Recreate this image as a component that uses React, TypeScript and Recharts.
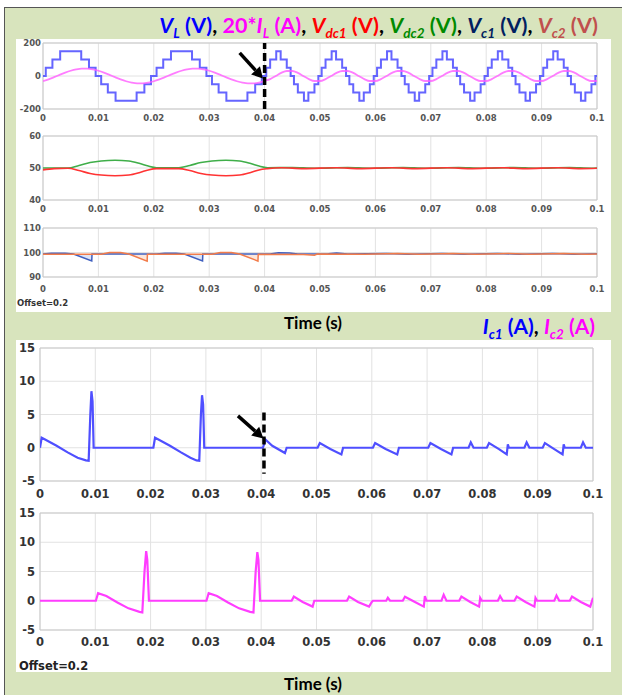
import React from 'react';
import {
  ComposedChart,
  Line,
  Area,
  XAxis,
  YAxis,
  CartesianGrid,
  ReferenceLine,
  ReferenceArea,
} from 'recharts';

const W = 622;

const xTicks = [0, 0.01, 0.02, 0.03, 0.04, 0.05, 0.06, 0.07, 0.08, 0.09, 0.1];
const vTicks = [-200, 0, 200];
const dcTicks = [40, 50, 60];
const capTicks = [90, 100, 110];
const iTicks = [-5, 0, 5, 10, 15];

// V_L staircase levels: [time s, volts] (step after)
const vlSteps: [number, number][] = [
  [0, 0], [0.0005, 50], [0.0017, 100], [0.0031, 150], [0.0069, 100], [0.0083, 50], [0.0095, 0],
  [0.0105, -50], [0.0117, -100], [0.0131, -150], [0.0169, -100], [0.0183, -50], [0.0195, 0],
  [0.0205, 50], [0.0217, 100], [0.0231, 150], [0.0269, 100], [0.0283, 50], [0.0295, 0],
  [0.0305, -50], [0.0317, -100], [0.0331, -150], [0.0369, -100], [0.0383, -50], [0.0395, 0],
  [0.0403, 50], [0.041, 100], [0.0421, 150], [0.0429, 100], [0.044, 50], [0.0447, 0],
  [0.0453, -50], [0.046, -100], [0.0471, -150], [0.0479, -100], [0.049, -50], [0.0497, 0],
  [0.0503, 50], [0.051, 100], [0.0521, 150], [0.0529, 100], [0.054, 50], [0.0547, 0],
  [0.0553, -50], [0.056, -100], [0.0571, -150], [0.0579, -100], [0.059, -50], [0.0597, 0],
  [0.0603, 50], [0.061, 100], [0.0621, 150], [0.0629, 100], [0.064, 50], [0.0647, 0],
  [0.0653, -50], [0.066, -100], [0.0671, -150], [0.0679, -100], [0.069, -50], [0.0697, 0],
  [0.0703, 50], [0.071, 100], [0.0721, 150], [0.0729, 100], [0.074, 50], [0.0747, 0],
  [0.0753, -50], [0.076, -100], [0.0771, -150], [0.0779, -100], [0.079, -50], [0.0797, 0],
  [0.0803, 50], [0.081, 100], [0.0821, 150], [0.0829, 100], [0.084, 50], [0.0847, 0],
  [0.0853, -50], [0.086, -100], [0.0871, -150], [0.0879, -100], [0.089, -50], [0.0897, 0],
  [0.0903, 50], [0.091, 100], [0.0921, 150], [0.0929, 100], [0.094, 50], [0.0947, 0],
  [0.0953, -50], [0.096, -100], [0.0971, -150], [0.0979, -100], [0.099, -50], [0.0997, 0],
  [0.1, 0],
];

// 20*I_L, one value per millisecond from 0 to 0.1 s
const ilValues = [
  -31.8, -20.4, -7, 7, 20.4, 31.8, 40.1, 44.4, 44.4, 40.1, 31.8, 20.4, 7, -7, -20.4, -31.8, -40.1, -44.4, -44.4, -40.1,
  -31.8, -20.4, -7, 7, 20.4, 31.8, 40.1, 44.4, 44.4, 40.1, 31.8, 20.4, 7, -7, -20.4, -31.8, -40.1, -44.4, -44.4, -40.1,
  -30, -18.8, 0, 18.8, 30.4, 30.4, 18.8, 0, -18.8, -30.4,
  -30.4, -18.8, 0, 18.8, 30.4, 30.4, 18.8, 0, -18.8, -30.4,
  -30.4, -18.8, 0, 18.8, 30.4, 30.4, 18.8, 0, -18.8, -30.4,
  -30.4, -18.8, 0, 18.8, 30.4, 30.4, 18.8, 0, -18.8, -30.4,
  -30.4, -18.8, 0, 18.8, 30.4, 30.4, 18.8, 0, -18.8, -30.4,
  -30.4, -18.8, 0, 18.8, 30.4, 30.4, 18.8, 0, -18.8, -30.4,
  -30.4,
];

const vdc1Rows: [number, number][] = [
  [0, 49.4], [0.002, 49.8], [0.0045, 49.9], [0.0065, 49.2], [0.0085, 48.3], [0.0105, 47.8], [0.013, 47.6],
  [0.0155, 47.8], [0.0175, 48.6], [0.019, 49.4], [0.0205, 49.8], [0.0245, 49.8], [0.0265, 49.2], [0.0285, 48.3],
  [0.0305, 47.8], [0.033, 47.6], [0.0355, 47.8], [0.0375, 48.6], [0.039, 49.4], [0.0405, 49.8],
  [0.043, 50.1], [0.047, 49.8], [0.053, 50.1], [0.057, 49.8], [0.063, 50.1], [0.067, 49.8], [0.073, 50.1],
  [0.077, 49.8], [0.083, 50.1], [0.087, 49.8], [0.093, 50.1], [0.097, 49.8], [0.1, 49.9],
];

const vdc2Rows: [number, number][] = [
  [0, 50], [0.0045, 50], [0.0065, 50.8], [0.0085, 51.7], [0.0105, 52.2], [0.013, 52.4], [0.0155, 52.2],
  [0.0175, 51.4], [0.019, 50.6], [0.0205, 50.1], [0.0245, 50.1], [0.0265, 50.8], [0.0285, 51.7], [0.0305, 52.2],
  [0.033, 52.4], [0.0355, 52.2], [0.0375, 51.4], [0.039, 50.6], [0.0405, 50.1],
  [0.045, 50.15], [0.049, 49.9], [0.055, 50.15], [0.059, 49.9], [0.065, 50.15], [0.069, 49.9], [0.075, 50.15],
  [0.079, 49.9], [0.085, 50.15], [0.089, 49.9], [0.095, 50.15], [0.099, 49.9], [0.1, 50],
];

const vc1Rows: [number, number][] = [
  [0, 99.4], [0.0015, 99.7], [0.004, 99.7], [0.0055, 99.4], [0.0088, 96.6], [0.00885, 99.4],
  [0.0205, 99.4], [0.022, 99.7], [0.024, 99.7], [0.0255, 99.4], [0.0288, 96.6], [0.02885, 99.4],
  [0.041, 99.4], [0.0425, 99.9], [0.0445, 99.8], [0.046, 99.4], [0.0515, 99.5], [0.053, 99.8], [0.055, 99.4],
  [0.062, 99.6], [0.066, 99.3], [0.072, 99.6], [0.076, 99.3], [0.082, 99.6], [0.086, 99.3], [0.092, 99.6],
  [0.096, 99.3], [0.1, 99.5],
];

const vc2Rows: [number, number][] = [
  [0, 99.3], [0.0105, 99.3], [0.012, 100], [0.014, 100], [0.0155, 99.4], [0.0188, 96.5], [0.01885, 99.3],
  [0.0305, 99.3], [0.032, 100], [0.034, 100], [0.0355, 99.4], [0.0388, 96.5], [0.03885, 99.3],
  [0.047, 99.2], [0.049, 98.9], [0.0495, 99.4], [0.058, 99.3], [0.064, 99.6], [0.068, 99.3], [0.074, 99.6],
  [0.078, 99.3], [0.084, 99.6], [0.088, 99.3], [0.094, 99.6], [0.098, 99.3], [0.1, 99.4],
];

const ic1Rows: [number, number][] = [
  [0, 0], [0.0003, 1.5], [0.001, 1.2], [0.003, 0.3], [0.005, -0.7], [0.0068, -1.5], [0.0083, -1.9], [0.0088, -1.95],
  [0.0091, 5], [0.0093, 8.5], [0.0095, 7], [0.0097, 0],
  [0.0205, 0], [0.0208, 1.5], [0.0215, 1.2], [0.0235, 0.3], [0.0255, -0.7], [0.0272, -1.5], [0.0283, -1.9], [0.0288, -1.95],
  [0.0291, 5], [0.0293, 7.9], [0.0295, 6.5], [0.0297, 0],
  [0.0403, 0], [0.0408, 1.2], [0.042, 0.3], [0.0443, -0.8], [0.0446, 0],
  [0.0502, 0], [0.0506, 0.7], [0.0525, -0.2], [0.0545, -1], [0.0548, 0],
  [0.0602, 0], [0.0606, 0.7], [0.0625, -0.2], [0.0646, -1], [0.0649, 0],
  [0.0702, 0], [0.0706, 0.7], [0.0725, -0.2], [0.0744, -1], [0.0747, 0],
  [0.0775, 0], [0.0779, 0.8], [0.0784, 0],
  [0.0808, 0], [0.0812, 0.7], [0.083, -0.2], [0.0844, -1], [0.0846, 0.5], [0.0848, 0],
  [0.0876, 0], [0.088, 0.8], [0.0885, 0],
  [0.0909, 0], [0.0913, 0.7], [0.093, -0.2], [0.0945, -1], [0.0947, 0.5], [0.0949, 0],
  [0.0978, 0], [0.0982, 0.8], [0.0987, 0], [0.1, 0],
];

const ic2Rows: [number, number][] = [
  [0, 0], [0.0101, 0], [0.0105, 1.3], [0.012, 0.8], [0.014, -0.3], [0.016, -1.3], [0.018, -1.9], [0.0185, -2],
  [0.0189, 5], [0.0192, 8.5], [0.0194, 7], [0.0197, 0],
  [0.0301, 0], [0.0305, 1.3], [0.032, 0.8], [0.034, -0.3], [0.036, -1.3], [0.038, -1.9], [0.0386, -2],
  [0.039, 5], [0.0393, 8.3], [0.0395, 7], [0.0398, 0],
  [0.0455, 0], [0.0459, 0.7], [0.0475, -0.2], [0.0493, -1], [0.0496, 0],
  [0.0555, 0], [0.0559, 0.7], [0.0575, -0.2], [0.0595, -1], [0.06, -0.2], [0.0602, 0],
  [0.0626, 0], [0.0629, 0.5], [0.0633, 0],
  [0.0656, 0], [0.066, 0.7], [0.0678, -0.2], [0.0694, -1], [0.0696, 0.8], [0.0699, 0],
  [0.0726, 0], [0.073, 1], [0.0735, 0],
  [0.0758, 0], [0.0762, 0.7], [0.0778, -0.2], [0.0794, -1], [0.0796, 0.5], [0.0799, 0],
  [0.0828, 0], [0.0832, 0.8], [0.0837, 0],
  [0.0858, 0], [0.0862, 0.7], [0.0878, -0.2], [0.0894, -1], [0.0896, 0.5], [0.0899, 0],
  [0.093, 0], [0.0934, 0.9], [0.0939, 0],
  [0.0958, 0], [0.0962, 0.7], [0.0978, -0.2], [0.0995, -1], [0.1, 0.5],
];

type Pt = { t: number; v: number };
const toPts = (rows: [number, number][]): Pt[] => rows.map(([t, v]) => ({ t, v }));

const vlPts = toPts(vlSteps);
const ilPts: Pt[] = ilValues.map((v, i) => ({ t: i / 1000, v }));
const vdc1Pts = toPts(vdc1Rows);
const vdc2Pts = toPts(vdc2Rows);
const vc1Pts = toPts(vc1Rows);
const vc2Pts = toPts(vc2Rows);
const ic1Pts = toPts(ic1Rows);
const ic2Pts = toPts(ic2Rows);

// thick black arrow drawn between the reference segment ends
const Arrow = (props: any) => {
  const { x1, y1, x2, y2 } = props;
  const dx = x2 - x1;
  const dy = y2 - y1;
  const len = Math.hypot(dx, dy) || 1;
  const ux = dx / len;
  const uy = dy / len;
  const head = 11;
  const half = 6;
  const bx = x2 - ux * head;
  const by = y2 - uy * head;
  return (
    <g>
      <line x1={x1} y1={y1} x2={bx} y2={by} stroke="#000" strokeWidth={3.5} />
      <polygon
        points={`${x2},${y2} ${bx - uy * half},${by + ux * half} ${bx + uy * half},${by - ux * half}`}
        fill="#000"
      />
    </g>
  );
};

interface PanelProps {
  plotTop: number;
  plotH: number;
  plotLeft: number;
  plotRight: number;
  yDomain: [number, number];
  yTicks: number[];
  big?: boolean;
  xGap: number;
  children: React.ReactNode;
}

function Panel({ plotTop, plotH, plotLeft, plotRight, yDomain, yTicks, big, xGap, children }: PanelProps) {
  const mt = 6;
  const xH = 24;
  const tick = {
    fontSize: big ? 11.5 : 8.5,
    fontWeight: 700,
    fill: big ? '#333' : '#555',
    fontFamily: 'DejaVu Sans',
  };
  return (
    <div style={{ position: 'absolute', left: 0, top: plotTop - mt }}>
      <ComposedChart
        width={W}
        height={mt + plotH + xH}
        margin={{ top: mt, right: W - plotRight, bottom: 0, left: 0 }}
      >
        <CartesianGrid stroke="#e2e2e2" />
        <ReferenceArea x1={0} x2={0.1} y1={yDomain[0]} y2={yDomain[1]} fill="none" stroke="#c9c9c9" />
        <XAxis
          type="number"
          dataKey="t"
          domain={[0, 0.1]}
          ticks={xTicks}
          interval={0}
          tickFormatter={(v) => String(v)}
          tickLine={false}
          axisLine={false}
          tickSize={xGap}
          tickMargin={0}
          height={xH}
          tick={tick}
          allowDataOverflow
        />
        <YAxis
          type="number"
          domain={yDomain}
          ticks={yTicks}
          interval={0}
          width={plotLeft}
          tickLine={false}
          axisLine={false}
          tickSize={big ? 5 : 2}
          tickMargin={0}
          tick={tick}
          allowDataOverflow
        />
        {children}
      </ComposedChart>
    </div>
  );
}

const sub = (txt: string, color: string, size = 13.5) => [
  <tspan key="a" fill={color} fontSize={size} fontStyle="italic" dy={4.5}>{txt}</tspan>,
];

export default function App() {
  return (
    <div
      style={{
        position: 'absolute',
        left: 0,
        top: 0,
        width: W,
        height: 695,
        overflow: 'hidden',
        background: '#fff',
      }}
    >
      <div
        style={{
          position: 'absolute',
          left: 4,
          top: 7,
          width: 700,
          height: 700,
          background: '#d8e4bd',
          borderLeft: '1.5px solid #555',
          borderTop: '1.5px solid #555',
        }}
      />
      <div style={{ position: 'absolute', left: 16, top: 39, width: 595, height: 273, background: '#fff' }} />
      <div style={{ position: 'absolute', left: 16, top: 340, width: 595, height: 332, background: '#fff' }} />

      <Panel plotTop={43} plotH={66} plotLeft={43} plotRight={597} yDomain={[-200, 200]} yTicks={vTicks} xGap={6}>
        <Line data={vlPts} dataKey="v" type="stepAfter" stroke="#4a4aff" strokeOpacity={0.85} strokeWidth={2} dot={false} isAnimationActive={false} />
        <Line data={ilPts} dataKey="v" type="monotone" stroke="#ff5cff" strokeOpacity={0.8} strokeWidth={1.8} dot={false} isAnimationActive={false} />
        <ReferenceLine x={0.04} stroke="#000" strokeWidth={3.5} strokeDasharray="8 4" />
        <ReferenceLine segment={[{ x: 0.0355, y: 140 }, { x: 0.0397, y: -15 }]} shape={Arrow} />
      </Panel>

      <Panel plotTop={136} plotH={64} plotLeft={43} plotRight={597} yDomain={[40, 60]} yTicks={dcTicks} xGap={5.5}>
        <Line data={vdc2Pts} dataKey="v" type="monotone" stroke="#3fae49" strokeWidth={1.6} dot={false} isAnimationActive={false} />
        <Line data={vdc1Pts} dataKey="v" type="monotone" stroke="#ff3333" strokeWidth={1.6} dot={false} isAnimationActive={false} />
      </Panel>

      <Panel plotTop={228} plotH={49} plotLeft={43} plotRight={597} yDomain={[90, 110]} yTicks={capTicks} xGap={8.5}>
        <Area data={vc1Pts} dataKey="v" type="linear" baseValue={99.4} stroke="none" fill="#9fb2e6" fillOpacity={0.35} isAnimationActive={false} />
        <Area data={vc2Pts} dataKey="v" type="linear" baseValue={99.3} stroke="none" fill="#f5b899" fillOpacity={0.35} isAnimationActive={false} />
        <Line data={vc1Pts} dataKey="v" type="linear" stroke="#3f5fbf" strokeWidth={1.5} dot={false} isAnimationActive={false} />
        <Line data={vc2Pts} dataKey="v" type="linear" stroke="#f27c4a" strokeWidth={1.5} dot={false} isAnimationActive={false} />
      </Panel>

      <Panel plotTop={348} plotH={133} plotLeft={40} plotRight={593} yDomain={[-5, 15]} yTicks={iTicks} big xGap={9}>
        <Line data={ic1Pts} dataKey="v" type="linear" stroke="#4f4fff" strokeWidth={2.2} dot={false} isAnimationActive={false} />
        <ReferenceLine segment={[{ x: 0.0405, y: 5.3 }, { x: 0.0405, y: -3.9 }]} stroke="#000" strokeWidth={3.5} strokeDasharray="8 4" />
        <ReferenceLine segment={[{ x: 0.0358, y: 4.8 }, { x: 0.0404, y: 1.4 }]} shape={Arrow} />
      </Panel>

      <Panel plotTop={513} plotH={117} plotLeft={40} plotRight={593} yDomain={[-5, 15]} yTicks={iTicks} big xGap={7.5}>
        <Line data={ic2Pts} dataKey="v" type="linear" stroke="#ff3dff" strokeWidth={2.2} dot={false} isAnimationActive={false} />
      </Panel>

      <svg width={W} height={695} style={{ position: 'absolute', left: 0, top: 0, pointerEvents: 'none' }}>
        <text x={598} y={33} textAnchor="end" fontFamily="Lato" fontWeight={700} fontSize={21.5} style={{ whiteSpace: 'pre' }}>
          <tspan fill="#0000ff" fontStyle="italic">V</tspan>
          {sub('L', '#0000ff')}
          <tspan fill="#0000ff" dy={-4.5}> (V)</tspan>
          <tspan fill="#000">, </tspan>
          <tspan fill="#ff00ff">20*</tspan>
          <tspan fill="#ff00ff" fontStyle="italic">I</tspan>
          {sub('L', '#ff00ff')}
          <tspan fill="#ff00ff" dy={-4.5}> (A)</tspan>
          <tspan fill="#000">, </tspan>
          <tspan fill="#ff0000" fontStyle="italic">V</tspan>
          {sub('dc1', '#ff0000')}
          <tspan fill="#ff0000" dy={-4.5}> (V)</tspan>
          <tspan fill="#000">, </tspan>
          <tspan fill="#008a00" fontStyle="italic">V</tspan>
          {sub('dc2', '#008a00')}
          <tspan fill="#008a00" dy={-4.5}> (V)</tspan>
          <tspan fill="#000">, </tspan>
          <tspan fill="#002060" fontStyle="italic">V</tspan>
          {sub('c1', '#002060')}
          <tspan fill="#002060" dy={-4.5}> (V)</tspan>
          <tspan fill="#000">, </tspan>
          <tspan fill="#c0504d" fontStyle="italic">V</tspan>
          {sub('c2', '#c0504d')}
          <tspan fill="#c0504d" dy={-4.5}> (V)</tspan>
        </text>

        <text x={595} y={334} textAnchor="end" fontFamily="Lato" fontWeight={700} fontSize={21} style={{ whiteSpace: 'pre' }}>
          <tspan fill="#0000ff" fontStyle="italic">I</tspan>
          {sub('c1', '#0000ff')}
          <tspan fill="#0000ff" dy={-4.5}> (A)</tspan>
          <tspan fill="#000">, </tspan>
          <tspan fill="#ff00ff" fontStyle="italic">I</tspan>
          {sub('c2', '#ff00ff')}
          <tspan fill="#ff00ff" dy={-4.5}> (A)</tspan>
        </text>

        <text x={313} y={329} textAnchor="middle" fontFamily="Lato" fontWeight={700} fontSize={17} fill="#000">Time (s)</text>
        <text x={313} y={690} textAnchor="middle" fontFamily="Lato" fontWeight={700} fontSize={17} fill="#000">Time (s)</text>

        <text x={17} y={306} fontFamily="DejaVu Sans" fontWeight={700} fontSize={8.5} fill="#333">Offset=0.2</text>
        <text x={19} y={670} fontFamily="DejaVu Sans" fontWeight={700} fontSize={11.5} fill="#222">Offset=0.2</text>
      </svg>
    </div>
  );
}
